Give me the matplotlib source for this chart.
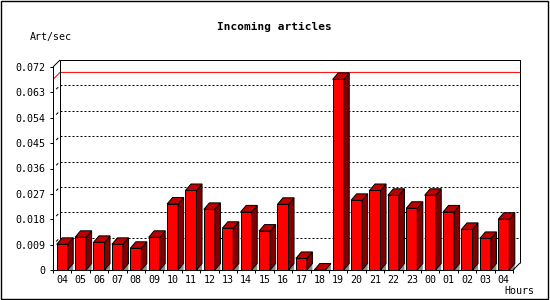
import matplotlib
matplotlib.use("Agg")
import matplotlib.pyplot as plt
from matplotlib.patches import Polygon, Rectangle

# data
hours = ["04", "05", "06", "07", "08", "09", "10", "11", "12", "13", "14", "15",
         "16", "17", "18", "19", "20", "21", "22", "23", "00", "01", "02", "03", "04"]
rate = [0.0091, 0.0116, 0.0098, 0.0091, 0.0077, 0.0116, 0.0234, 0.0282, 0.0215,
        0.0148, 0.0206, 0.0138, 0.0233, 0.0041, 0.0, 0.0676, 0.0247, 0.0282,
        0.0265, 0.0219, 0.0265, 0.0206, 0.0144, 0.0112, 0.0180]
y_ticks = [0, 0.009, 0.018, 0.027, 0.036, 0.045, 0.054, 0.063, 0.072]
y_max = 0.072

FONT = "DejaVu Sans Mono"
W, H = 550, 300
px = 0.72  # one pixel in points

fig = plt.figure(figsize=(5.5, 3), dpi=100)
ax = fig.add_axes([53 / W, 30 / H, 460 / W, 203 / H])
n = len(hours)
ax.set_xlim(0, n)
ax.set_ylim(0, y_max)
ax.patch.set_visible(False)

# 3d depth in data units
dx = 7 * n / 460
dy = 7 * y_max / 203
bdx = 5.5 * n / 460
bdy = 6.5 * y_max / 203

for s in ["top", "right"]:
    ax.spines[s].set_visible(False)
for s in ["left", "bottom"]:
    ax.spines[s].set_linewidth(px)
    ax.spines[s].set_zorder(10)

ax.set_yticks(y_ticks)
ax.set_yticklabels(["0" if v == 0 else f"{v:.3f}" for v in y_ticks])
ax.set_xticks(range(n + 1))
ax.set_xticklabels([])
ax.set_xticks([i + 0.5 for i in range(n)], minor=True)
ax.set_xticklabels(hours, minor=True)
ax.tick_params(axis="y", direction="out", length=3 * px, width=px, pad=4.5 * px,
               labelsize=7.2, labelfontfamily=FONT)
ax.tick_params(axis="x", which="major", direction="out", length=3 * px, width=px)
ax.tick_params(axis="x", which="minor", length=0, pad=5 * px,
               labelsize=7.2, labelfontfamily=FONT)

kw = dict(clip_on=False, lw=px, solid_capstyle="butt")

# back grid (dotted) and small slashes on the side wall
for v in y_ticks[1:-1]:
    ax.plot([dx, n + dx], [v + dy, v + dy], color="black", linestyle=(0, (2, 2)),
            zorder=1, clip_on=False, lw=px)
    ax.plot([dx * 0.45, dx * 0.75], [v + dy * 0.45, v + dy * 0.75], color="black",
            zorder=1, **kw)

# max line
m = max(rate)
ax.plot([0, dx, n + dx], [m, m + dy, m + dy], color="red", zorder=1.5, **kw)

# back frame
ax.plot([dx, dx, n + dx, n + dx], [dy, y_max + dy, y_max + dy, dy], color="black",
        zorder=2, **kw)
ax.plot([0, dx], [y_max, y_max + dy], color="black", zorder=2, **kw)
ax.plot([n, n + dx], [0, dy], color="black", zorder=10, **kw)

# bars
bw = 0.6
xs = [i + 0.5 for i in range(n)]
ax.bar(xs, rate, width=bw, color="#ff0000", edgecolor="black", linewidth=px,
       zorder=4, clip_on=False)
for x, v in zip(xs, rate):
    l, r = x - bw / 2, x + bw / 2
    ax.add_patch(Polygon([(r, 0), (r + bdx, bdy), (r + bdx, 0)], closed=True,
                         facecolor="#8c8c8c", edgecolor="none", zorder=3, clip_on=False))
    ax.add_patch(Polygon([(r, 0), (r + bdx, bdy), (r + bdx, v + bdy), (r, v)], closed=True,
                         facecolor="#800000", edgecolor="black", lw=px, zorder=4,
                         clip_on=False))
    ax.add_patch(Polygon([(l, v), (l + bdx, v + bdy), (r + bdx, v + bdy), (r, v)],
                         closed=True, facecolor="#c00000", edgecolor="black", lw=px,
                         zorder=4, clip_on=False))

fig.text(274 / W, 1 - 27 / H, "Incoming articles", ha="center", va="center",
         fontweight="bold", family=FONT, size=8)
fig.text(30 / W, 1 - 37 / H, "Art/sec", ha="left", va="center", family=FONT, size=7.2)
fig.text(504 / W, 1 - 291.5 / H, "Hours", ha="left", va="center", family=FONT, size=7.2)

fig.patches.append(Rectangle((0.7 / W, 0.7 / H), 547.6 / W, 298.4 / H,
                             transform=fig.transFigure, fill=False,
                             edgecolor="black", lw=1.4 * px))

fig.savefig("out.png", dpi=100)
